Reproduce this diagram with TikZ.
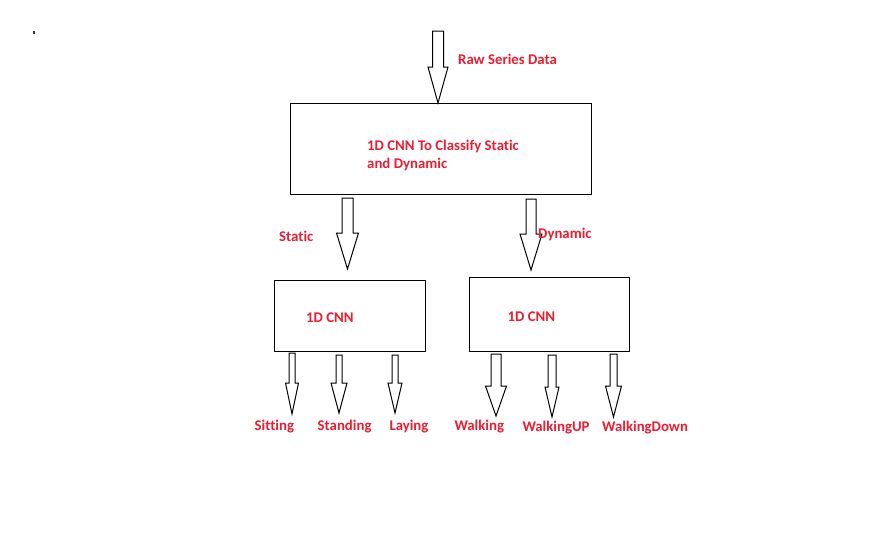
\documentclass[tikz,border=0pt]{standalone}
\usepackage{fontspec}
\setmainfont{Carlito}[Ligatures={NoCommon}]
\definecolor{lblred}{RGB}{237,28,48}
\tikzset{
  lbl/.style={inner sep=0pt, anchor=base west, text=lblred, font=\fontsize{14.8}{18}\selectfont\bfseries},
  box/.style={draw=black, line width=1pt},
  blk/.style={draw=black, line width=1pt, fill=white, line join=miter}
}
% x, ytop, yhead, ytip, shaft half, head half
\newcommand{\blkarrow}[6]{%
  \draw[blk] (#1-#5,#2) -- (#1+#5,#2) -- (#1+#5,#3) -- (#1+#6,#3) -- (#1,#4) -- (#1-#6,#3) -- (#1-#5,#3) -- cycle;}
\begin{document}
\begin{tikzpicture}[x=1pt,y=-1pt]
\useasboundingbox (0,0) rectangle (873,550);
\fill[black!80] (33,30.5) rectangle (34.5,34);
% boxes
\coordinate (bigA) at (290,103);
\coordinate (bigB) at (591,194);
\draw[box] (bigA) rectangle (bigB);
\coordinate (lA) at (274,280);
\coordinate (lB) at (425,351);
\draw[box] (lA) rectangle (lB);
\coordinate (rA) at (469,277);
\coordinate (rB) at (629,351);
\draw[box] (rA) rectangle (rB);
% arrows
\blkarrow{438}{31}{67}{103}{5.5}{10}
\blkarrow{347.5}{198}{233}{269}{5.5}{11}
\blkarrow{531}{199}{234}{270}{5}{11}
\blkarrow{292}{353}{383}{414}{3}{6.5}
\blkarrow{339}{355}{383}{413}{3}{8}
\blkarrow{395}{355}{383}{413}{3}{7}
\blkarrow{496}{354}{386}{416}{5}{10.5}
\blkarrow{552}{355}{387}{417}{4}{7}
\blkarrow{613.5}{354}{386}{417}{3.5}{8}
% labels
\node[lbl] (raw) at (458,64) {Raw Series Data};
\node[lbl] (c1) at (367,150.5) {1D CNN To Classify Static};
\node[lbl] (c2) at (367,168) {and Dynamic};
\node[lbl] (st) at (279,241) {Static};
\node[lbl] (dy) at (538,238.5) {Dynamic};
\node[lbl] (l1) at (306,322.5) {1D CNN};
\node[lbl] (r1) at (507.5,321) {1D CNN};
\node[lbl] (s1) at (254.5,430.5) {Sitting};
\node[lbl] (s2) at (317.5,430) {Standing};
\node[lbl] (s3) at (389.3,430) {Laying};
\node[lbl] (d1) at (454.3,430.3) {Walking};
\node[lbl] (d2) at (522.3,431.5) {WalkingUP};
\node[lbl] (d3) at (602,431.5) {WalkingDown};
\end{tikzpicture}
\end{document}
